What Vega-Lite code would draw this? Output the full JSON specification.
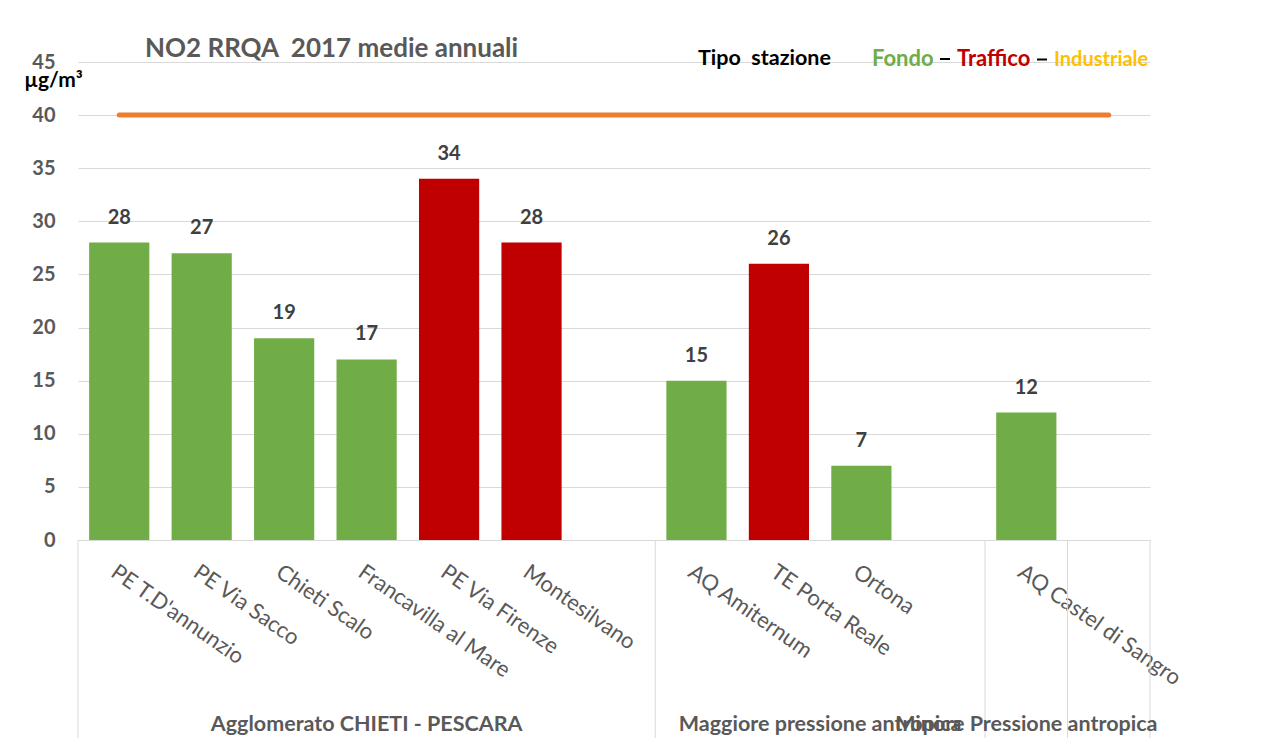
{
  "$schema": "https://vega.github.io/schema/vega-lite/v6.json",
  "autosize": {"type": "none"},
  "width": 1072,
  "height": 478,
  "padding": {"left": 78, "top": 62, "right": 124, "bottom": 198},
  "background": "white",
  "config": {
    "view": {"stroke": null},
    "font": "Lato"
  },
  "title": {
    "text": "NO2 RRQA \u00a02017 medie annuali",
    "anchor": "start",
    "frame": "group",
    "dx": 67,
    "offset": 0,
    "dy": 35,
    "baseline": "alphabetic",
    "font": "Lato",
    "fontSize": 26,
    "fontWeight": "bold",
    "color": "#595959"
  },
  "datasets": {
    "stazioni": [
      {"stazione": "PE T.D'annunzio", "valore": 28, "tipo": "Fondo", "limite": 40},
      {"stazione": "PE Via Sacco", "valore": 27, "tipo": "Fondo", "limite": 40},
      {"stazione": "Chieti Scalo", "valore": 19, "tipo": "Fondo", "limite": 40},
      {"stazione": "Francavilla al Mare", "valore": 17, "tipo": "Fondo", "limite": 40},
      {"stazione": "PE Via Firenze", "valore": 34, "tipo": "Traffico", "limite": 40},
      {"stazione": "Montesilvano", "valore": 28, "tipo": "Traffico", "limite": 40},
      {"stazione": " ", "valore": null, "tipo": null, "limite": 40},
      {"stazione": "AQ Amiternum", "valore": 15, "tipo": "Fondo", "limite": 40},
      {"stazione": "TE Porta Reale", "valore": 26, "tipo": "Traffico", "limite": 40},
      {"stazione": "Ortona", "valore": 7, "tipo": "Fondo", "limite": 40},
      {"stazione": "  ", "valore": null, "tipo": null, "limite": 40},
      {"stazione": "AQ Castel di Sangro", "valore": 12, "tipo": "Fondo", "limite": 40},
      {"stazione": "   ", "valore": null, "tipo": null, "limite": 40}
    ],
    "confini": [
      {"stazione": "PE T.D'annunzio"},
      {"stazione": "AQ Amiternum"},
      {"stazione": "AQ Castel di Sangro"},
      {"stazione": "   "}
    ],
    "confine_finale": [
      {"stazione": "   "}
    ],
    "gruppi_centro": [
      {"stazione": "Francavilla al Mare", "gruppo": "Agglomerato CHIETI - PESCARA"},
      {"stazione": "AQ Castel di Sangro", "gruppo": "Minore Pressione antropica"}
    ],
    "gruppi_bordo": [
      {"stazione": "TE Porta Reale", "gruppo": "Maggiore pressione antropica"}
    ]
  },
  "layer": [
    {
      "data": {"name": "stazioni"},
      "transform": [{"filter": "datum.valore != null"}],
      "mark": {"type": "bar", "width": {"band": 0.73}},
      "encoding": {
        "x": {
          "field": "stazione",
          "type": "nominal",
          "scale": {
            "domain": ["PE T.D'annunzio", "PE Via Sacco", "Chieti Scalo", "Francavilla al Mare", "PE Via Firenze", "Montesilvano", " ", "AQ Amiternum", "TE Porta Reale", "Ortona", "  ", "AQ Castel di Sangro", "   "],
            "paddingInner": 0,
            "paddingOuter": 0
          },
          "axis": {
            "title": null,
            "labelAngle": 35,
            "labelAlign": "left",
            "labelBaseline": "top",
            "labelPadding": 21,
            "ticks": false,
            "tickSize": 0,
            "domainColor": "#D9D9D9",
            "domainWidth": 1,
            "labelFont": "Lato",
            "labelFontSize": 22,
            "labelColor": "#595959",
            "labelLimit": 400,
            "labelOverlap": false,
            "grid": false
          }
        },
        "y": {
          "field": "valore",
          "type": "quantitative",
          "scale": {"domain": [0, 45], "nice": false, "zero": true},
          "axis": {
            "values": [0, 5, 10, 15, 20, 25, 30, 35, 40, 45],
            "labelFont": "Lato",
            "labelFontSize": 20,
            "labelFontWeight": "bold",
            "labelColor": "#595959",
            "labelPadding": 23,
            "ticks": false,
            "domain": false,
            "grid": true,
            "gridColor": "#D9D9D9",
            "gridWidth": 1,
            "title": "µg/m³",
            "titleAngle": 0,
            "titleX": -25,
            "titleY": 24,
            "titleAlign": "center",
            "titleBaseline": "alphabetic",
            "titleFont": "Lato",
            "titleFontSize": 21,
            "titleFontWeight": "bold",
            "titleColor": "black"
          }
        },
        "color": {
          "field": "tipo",
          "type": "nominal",
          "scale": {"domain": ["Fondo", "Traffico", "Industriale"], "range": ["#70AD47", "#C00000", "#FFC000"]},
          "legend": {
            "orient": "none",
            "legendX": 620,
            "legendY": -14,
            "direction": "horizontal",
            "title": "Tipo \u00a0stazione",
            "titleOrient": "left",
            "titleFont": "Lato",
            "titleFontSize": 21.5,
            "titleFontWeight": "bold",
            "titleColor": "black",
            "titlePadding": 18,
            "labelFont": "Lato",
            "labelFontWeight": "bold",
            "labelFontSize": {"expr": "datum.label == 'Industriale' ? 20 : 22"},
            "labelColor": {"expr": "datum.label == 'Fondo' ? '#70AD47' : datum.label == 'Traffico' ? '#C00000' : '#FFC000'"},
            "labelExpr": "datum.label == 'Industriale' ? '\u00a0\u00a0\u00a0' + datum.label : datum.label",
            "labelOffset": 1,
            "columnPadding": -5,
            "symbolType": "stroke",
            "symbolSize": 100,
            "symbolStrokeColor": "black",
            "symbolStrokeWidth": 2,
            "symbolOpacity": {"expr": "datum.index == 0 ? 0 : 1"}
          }
        }
      }
    },
    {
      "data": {"name": "stazioni"},
      "transform": [{"filter": "datum.valore != null"}],
      "mark": {"type": "text", "baseline": "middle", "dy": -25, "font": "Lato", "fontSize": 20, "fontWeight": "bold", "color": "#404040"},
      "encoding": {
        "x": {"field": "stazione", "type": "nominal"},
        "y": {"field": "valore", "type": "quantitative"},
        "text": {"field": "valore", "type": "quantitative"}
      }
    },
    {
      "data": {"name": "stazioni"},
      "mark": {"type": "line", "color": "#ED7D31", "strokeWidth": 5, "strokeCap": "round"},
      "encoding": {
        "x": {"field": "stazione", "type": "nominal"},
        "y": {"field": "limite", "type": "quantitative"}
      }
    },
    {
      "data": {"name": "confini"},
      "mark": {"type": "rule", "color": "#D9D9D9", "strokeWidth": 1},
      "encoding": {
        "x": {"field": "stazione", "type": "nominal", "bandPosition": 0},
        "y": {"datum": 0},
        "y2": {"datum": -19}
      }
    },
    {
      "data": {"name": "confine_finale"},
      "mark": {"type": "rule", "color": "#D9D9D9", "strokeWidth": 1},
      "encoding": {
        "x": {"field": "stazione", "type": "nominal", "bandPosition": 1},
        "y": {"datum": 0},
        "y2": {"datum": -19}
      }
    },
    {
      "data": {"name": "gruppi_centro"},
      "mark": {"type": "text", "baseline": "alphabetic", "align": "center", "font": "Lato", "fontSize": 21.5, "fontWeight": "bold", "color": "#595959"},
      "encoding": {
        "x": {"field": "stazione", "type": "nominal", "bandPosition": 0.5},
        "y": {"datum": -18},
        "text": {"field": "gruppo"}
      }
    },
    {
      "data": {"name": "gruppi_bordo"},
      "mark": {"type": "text", "baseline": "alphabetic", "align": "center", "font": "Lato", "fontSize": 21.5, "fontWeight": "bold", "color": "#595959"},
      "encoding": {
        "x": {"field": "stazione", "type": "nominal", "bandPosition": 1},
        "y": {"datum": -18},
        "text": {"field": "gruppo"}
      }
    }
  ]
}
